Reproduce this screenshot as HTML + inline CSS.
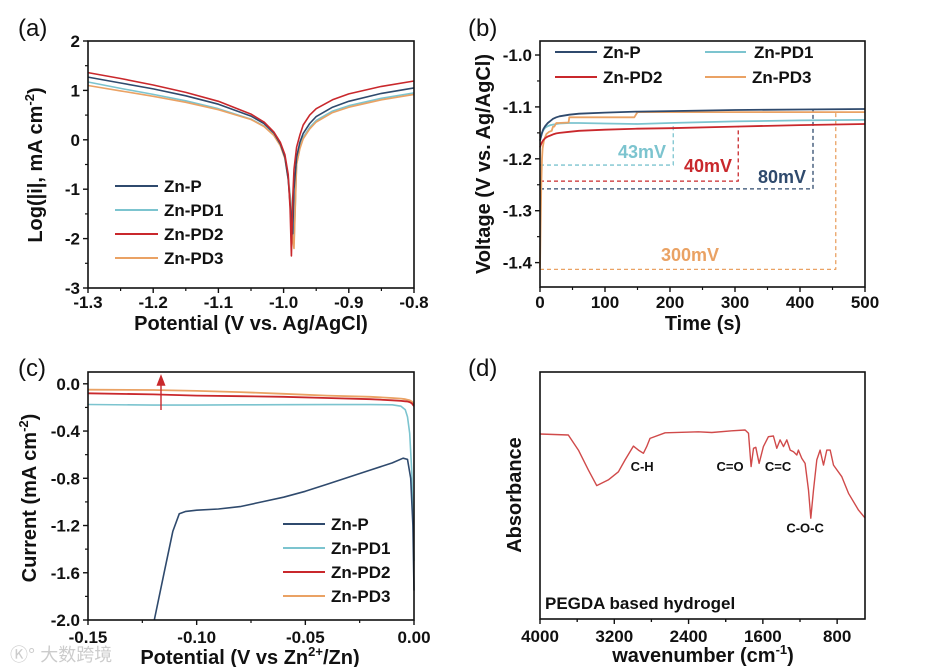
<!DOCTYPE html>
<html><head><meta charset="utf-8"><style>
html,body{margin:0;padding:0;background:#fff;}
svg{display:block;font-family:"Liberation Sans",Arial,sans-serif;}
.tk{font-size:17px;font-weight:bold;fill:#111;}
.at{font-size:20px;font-weight:bold;fill:#111;}
.pl{font-size:24px;fill:#111;}
.lg{font-size:17px;font-weight:bold;fill:#111;}
</style></head><body>
<svg id="fig" width="935" height="667" viewBox="0 0 935 667" xmlns="http://www.w3.org/2000/svg">
<text class="pl" x="18" y="36">(a)</text>
<text class="pl" x="468" y="36">(b)</text>
<text class="pl" x="18" y="376">(c)</text>
<text class="pl" x="468" y="376">(d)</text>
<text x="10" y="661" font-size="18" fill="#ccc" font-family="'Liberation Sans','Noto Sans CJK SC',sans-serif">Ⓚ° 大数跨境</text>
</svg>
<script>
const C={P:'#2f4a6d',PD1:'#7cc4cf',PD2:'#c9282c',PD3:'#eaa264'};
// ---- Panel a data ----
const aX=[-1.3,-1.25,-1.2,-1.15,-1.1,-1.05,-1.03,-1.015,-1.005,-0.998,-0.993,-0.99,-0.988,-0.986,-0.984,-0.98,-0.975,-0.97,-0.96,-0.95,-0.925,-0.9,-0.85,-0.8];
const aP  =[1.27,1.15,1.03,0.89,0.72,0.48,0.33,0.14,-0.08,-0.35,-0.8,-1.3,-1.6,-1.9,-1.0,-0.35,-0.05,0.13,0.33,0.47,0.66,0.78,0.94,1.05];
const aPD1=[1.17,1.04,0.92,0.79,0.63,0.42,0.28,0.1,-0.1,-0.35,-0.75,-1.1,-1.4,-1.7,-2.1,-0.5,-0.15,0.05,0.25,0.39,0.58,0.69,0.84,0.95];
const aPD2=[1.36,1.24,1.11,0.96,0.78,0.52,0.36,0.16,-0.05,-0.3,-0.7,-1.4,-2.35,-1.2,-0.6,-0.15,0.1,0.3,0.5,0.63,0.81,0.93,1.08,1.19];
const aPD3=[1.10,0.99,0.88,0.76,0.61,0.41,0.27,0.09,-0.12,-0.38,-0.8,-1.2,-1.6,-2.0,-2.2,-0.5,-0.18,0.02,0.22,0.36,0.55,0.66,0.81,0.92];
const aXTicks=[-1.3,-1.2,-1.1,-1.0,-0.9,-0.8];
const aXLabels=['-1.3','-1.2','-1.1','-1.0','-0.9','-0.8'];
const aYTicks=[2,1,0,-1,-2,-3];
const aYLabels=['2','1','0','-1','-2','-3'];
// ---- Panel b data ----
const bT=[0,1,2,3,5,8,12,16,20,25,30,45,60,100,150,200,300,400,500];
const bP  =[-1.165,-1.16,-1.155,-1.15,-1.143,-1.137,-1.131,-1.127,-1.123,-1.12,-1.118,-1.115,-1.113,-1.111,-1.109,-1.108,-1.106,-1.105,-1.104];
const bPD1=[-1.165,-1.16,-1.155,-1.15,-1.145,-1.14,-1.137,-1.135,-1.134,-1.133,-1.132,-1.131,-1.131,-1.132,-1.133,-1.131,-1.128,-1.126,-1.125];
const bPD2=[-1.178,-1.174,-1.171,-1.168,-1.164,-1.16,-1.157,-1.155,-1.153,-1.151,-1.15,-1.148,-1.146,-1.144,-1.142,-1.141,-1.138,-1.135,-1.133];
const bT3=[0,1,2,3,4,6,8,10,14,18,20,22,25,28,44,45,145,148,150,500];
const bPD3=[-1.41,-1.33,-1.25,-1.2,-1.18,-1.165,-1.158,-1.152,-1.148,-1.146,-1.138,-1.138,-1.131,-1.131,-1.13,-1.12,-1.12,-1.114,-1.11,-1.11];
const bDashT=[205,305,420,455];
const bDashLow=[-1.212,-1.243,-1.258,-1.413];
const bDashHigh=[-1.133,-1.138,-1.105,-1.11];
const bDashKeys=['PD1','PD2','P','PD3'];
const bDashText=['43mV','40mV','80mV','300mV'];
const bXTicks=[0,100,200,300,400,500];
const bYTicks=[-1.0,-1.1,-1.2,-1.3,-1.4];
const bYLabels=['-1.0','-1.1','-1.2','-1.3','-1.4'];
// ---- Panel c data ----
const cXP=[-0.1195,-0.115,-0.111,-0.108,-0.105,-0.1,-0.09,-0.08,-0.07,-0.06,-0.05,-0.04,-0.03,-0.02,-0.01,-0.005,-0.003,-0.0015,-0.0005,0];
const cP =[-2.0,-1.6,-1.25,-1.1,-1.08,-1.07,-1.06,-1.04,-1.0,-0.96,-0.91,-0.85,-0.79,-0.73,-0.67,-0.63,-0.64,-0.8,-1.2,-1.75];
const cX=[-0.15,-0.12,-0.1,-0.08,-0.06,-0.04,-0.02,-0.01,-0.006,-0.004,-0.003,-0.002,-0.001,0];
const cPD1=[-0.175,-0.18,-0.18,-0.178,-0.177,-0.176,-0.176,-0.178,-0.19,-0.22,-0.28,-0.42,-0.75,-1.5];
const cPD2=[-0.08,-0.09,-0.1,-0.105,-0.11,-0.12,-0.13,-0.14,-0.145,-0.148,-0.15,-0.155,-0.165,-0.19];
const cPD3=[-0.05,-0.052,-0.06,-0.07,-0.085,-0.1,-0.11,-0.12,-0.125,-0.13,-0.135,-0.14,-0.15,-0.17];
const cXTicks=[-0.15,-0.1,-0.05,0];
const cXLabels=['-0.15','-0.10','-0.05','0.00'];
const cYTicks=[0,-0.4,-0.8,-1.2,-1.6,-2.0];
const cYLabels=['0.0','-0.4','-0.8','-1.2','-1.6','-2.0'];
// ---- Panel d data ----
const dW=[4000,3695,3587,3479,3389,3264,3156,3084,2994,2940,2887,2851,2815,2653,2294,2150,1935,1791,1755,1727,1701,1676,1640,1594,1540,1486,1450,1414,1378,1342,1306,1270,1234,1217,1181,1145,1109,1084,1055,1019,983,947,911,875,839,750,678,570,498];
const dA=[0.749,0.745,0.684,0.603,0.540,0.563,0.596,0.644,0.700,0.684,0.671,0.698,0.731,0.754,0.758,0.755,0.762,0.765,0.752,0.617,0.691,0.695,0.630,0.698,0.738,0.741,0.691,0.725,0.698,0.725,0.684,0.677,0.664,0.684,0.650,0.630,0.522,0.408,0.522,0.644,0.684,0.623,0.684,0.684,0.623,0.576,0.509,0.441,0.408];
const dXTicks=[4000,3200,2400,1600,800];
const dPeakW=[2900,1953,1436,1145];
const dPeakA=[0.60,0.60,0.60,0.35];
const dPeakText=['C-H','C=O','C=C','C-O-C'];

const svg=document.getElementById('fig');
const NS='http://www.w3.org/2000/svg';
function mk(tag,attrs,parent){const e=document.createElementNS(NS,tag);for(const k in attrs)e.setAttribute(k,attrs[k]);(parent||svg).appendChild(e);return e;}
function scale(d0,d1,r0,r1){return v=>r0+(v-d0)/(d1-d0)*(r1-r0);}
function path(xs,ys,sx,sy){return xs.map((x,i)=>(i?'L':'M')+sx(x).toFixed(1)+','+sy(ys[i]).toFixed(1)).join('');}
function frame(L,T,R,B,name){const r=mk('rect',{x:L,y:T,width:R-L,height:B-T,fill:'none',stroke:'#111','stroke-width':1.6});}
function xticks(vals,labels,sx,B,ylab,name){vals.forEach((v,i)=>{const x=sx(v);const t=mk('line',{x1:x,x2:x,y1:B,y2:B+5,stroke:'#111','stroke-width':1.4});if(i<vals.length-1){const xm=sx((v+vals[i+1])/2);mk('line',{x1:xm,x2:xm,y1:B,y2:B+3,stroke:'#111','stroke-width':1.2});}const l=mk('text',{x:x,y:ylab,'text-anchor':'middle',class:'tk'});l.textContent=labels[i];});}
function yticks(vals,labels,sy,L,name){vals.forEach((v,i)=>{const y=sy(v);const t=mk('line',{x1:L-5,x2:L,y1:y,y2:y,stroke:'#111','stroke-width':1.4});if(i<vals.length-1){const ym=sy((v+vals[i+1])/2);mk('line',{x1:L-3,x2:L,y1:ym,y2:ym,stroke:'#111','stroke-width':1.2});}if(labels){const l=mk('text',{x:L-8,y:y+6,'text-anchor':'end',class:'tk'});l.textContent=labels[i];}});}
function line(d,col,w,name){const p=mk('path',{d:d,fill:'none',stroke:col,'stroke-width':w,'stroke-linejoin':'round'});return p;}
function legend(x1,x2,tx,y,col,txt,name){const l=mk('line',{x1:x1,x2:x2,y1:y,y2:y,stroke:col,'stroke-width':2});const t=mk('text',{x:tx,y:y+6,class:'lg'});t.textContent=txt;}
function title(txt,x,y,rot,name,html){const t=mk('text',{x:x,y:y,'text-anchor':'middle',class:'at'});if(rot)t.setAttribute('transform','rotate(-90 '+x+' '+y+')');if(html)t.innerHTML=html;else t.textContent=txt;}

// Panel a
(function(){const L=88,R=414,T=41,B=288;const sx=scale(-1.3,-0.8,L,R),sy=scale(2,-3,T,B);
xticks(aXTicks,aXLabels,sx,B,308,'a-x');yticks(aYTicks,aYLabels,sy,L,'a-y');
line(path(aX,aPD1,sx,sy),C.PD1,1.6,'a-line-zn-pd1');line(path(aX,aPD3,sx,sy),C.PD3,1.6,'a-line-zn-pd3');
line(path(aX,aP,sx,sy),C.P,1.6,'a-line-zn-p');line(path(aX,aPD2,sx,sy),C.PD2,1.6,'a-line-zn-pd2');
frame(L,T,R,B,'a-plot-frame');
legend(115,158,164,186,C.P,'Zn-P','a-legend-zn-p');legend(115,158,164,210,C.PD1,'Zn-PD1','a-legend-zn-pd1');
legend(115,158,164,234,C.PD2,'Zn-PD2','a-legend-zn-pd2');legend(115,158,164,258,C.PD3,'Zn-PD3','a-legend-zn-pd3');
title('Potential (V vs. Ag/AgCl)',251,330,false,'a-x-axis-title');
title('',42,165,true,'a-y-axis-title','Log(|i|, mA cm<tspan dy="-8" font-size="13">-2</tspan><tspan dy="8">)</tspan>');})();

// Panel b
(function(){const L=540,R=865,T=41,B=287;const sx=scale(0,500,L,R),sy=scale(-0.973,-1.447,T,B);
xticks(bXTicks,bXTicks.map(String),sx,B,308,'b-x');yticks(bYTicks,bYLabels,sy,L,'b-y');
bDashT.forEach((t,i)=>{const c=C[bDashKeys[i]];const d='M'+sx(0)+','+sy(bDashLow[i])+'L'+sx(t)+','+sy(bDashLow[i])+'L'+sx(t)+','+sy(bDashHigh[i]);const p=line(d,c,1.3,'b-dash-'+bDashKeys[i].toLowerCase());p.setAttribute('stroke-dasharray','4,3');});
line(path(bT,bPD1,sx,sy),C.PD1,1.8,'b-line-zn-pd1');line(path(bT3,bPD3,sx,sy),C.PD3,1.8,'b-line-zn-pd3');
line(path(bT,bPD2,sx,sy),C.PD2,1.8,'b-line-zn-pd2');line(path(bT,bP,sx,sy),C.P,1.8,'b-line-zn-p');
const lp=[[642,158],[708,172],[782,183],[690,261]];
bDashText.forEach((s,i)=>{const t=mk('text',{x:lp[i][0],y:lp[i][1],'text-anchor':'middle',class:'lg'});t.style.fill=C[bDashKeys[i]];t.style.fontSize='18px';t.textContent=s;});
frame(L,T,R,B,'b-plot-frame');
legend(555,597,603,52,C.P,'Zn-P','b-legend-zn-p');legend(705,746,754,52,C.PD1,'Zn-PD1','b-legend-zn-pd1');
legend(555,597,603,77,C.PD2,'Zn-PD2','b-legend-zn-pd2');legend(705,746,752,77,C.PD3,'Zn-PD3','b-legend-zn-pd3');
title('Time (s)',703,330,false,'b-x-axis-title');
title('Voltage (V vs. Ag/AgCl)',490,164,true,'b-y-axis-title');})();

// Panel c
(function(){const L=88,R=414,T=372,B=620;const sx=scale(-0.15,0,L,R),sy=scale(0.1,-2.0,T,B);
xticks(cXTicks,cXLabels,sx,B,643,'c-x');yticks(cYTicks,cYLabels,sy,L,'c-y');
line(path(cX,cPD1,sx,sy),C.PD1,1.6,'c-line-zn-pd1');line(path(cXP,cP,sx,sy),C.P,1.6,'c-line-zn-p');
line(path(cX,cPD3,sx,sy),C.PD3,1.8,'c-line-zn-pd3');line(path(cX,cPD2,sx,sy),C.PD2,1.8,'c-line-zn-pd2');
const ar=mk('path',{d:'M161,410L161,380M157.5,385L161,376L164.5,385Z',stroke:C.PD2,fill:C.PD2,'stroke-width':1.4});
frame(L,T,R,B,'c-plot-frame');
legend(283,325,331,524,C.P,'Zn-P','c-legend-zn-p');legend(283,325,331,548,C.PD1,'Zn-PD1','c-legend-zn-pd1');
legend(283,325,331,572,C.PD2,'Zn-PD2','c-legend-zn-pd2');legend(283,325,331,596,C.PD3,'Zn-PD3','c-legend-zn-pd3');
title('',250,664,false,'c-x-axis-title','Potential (V vs Zn<tspan dy="-8" font-size="13">2+</tspan><tspan dy="8">/Zn)</tspan>');
title('',36,498,true,'c-y-axis-title','Current (mA cm<tspan dy="-8" font-size="13">-2</tspan><tspan dy="8">)</tspan>');})();

// Panel d
(function(){const L=540,R=865,T=372,B=619;const sx=scale(4000,500,L,R),sy=scale(1,0,T,B);
xticks(dXTicks,dXTicks.map(String),sx,B,642,'d-x');
[3600,2800,2000,1200].forEach(v=>{const x=sx(v);mk('line',{x1:x,x2:x,y1:B,y2:B+3,stroke:'#111','stroke-width':1.2});});
line(path(dW,dA,sx,sy),'#d04a4a',1.4,'d-ftir-spectrum');
dPeakW.forEach((w,i)=>{const t=mk('text',{x:sx(w),y:sy(dPeakA[i]),'text-anchor':'middle',class:'tk'});t.style.fontSize='13px';t.textContent=dPeakText[i];});
const pt=mk('text',{x:545,y:609,class:'lg'});pt.textContent='PEGDA based hydrogel';
frame(L,T,R,B,'d-plot-frame');
title('',703,662,false,'d-x-axis-title','wavenumber (cm<tspan dy="-8" font-size="13">-1</tspan><tspan dy="8">)</tspan>');
title('Absorbance',521,495,true,'d-y-axis-title');})();
</script>
</body></html>
